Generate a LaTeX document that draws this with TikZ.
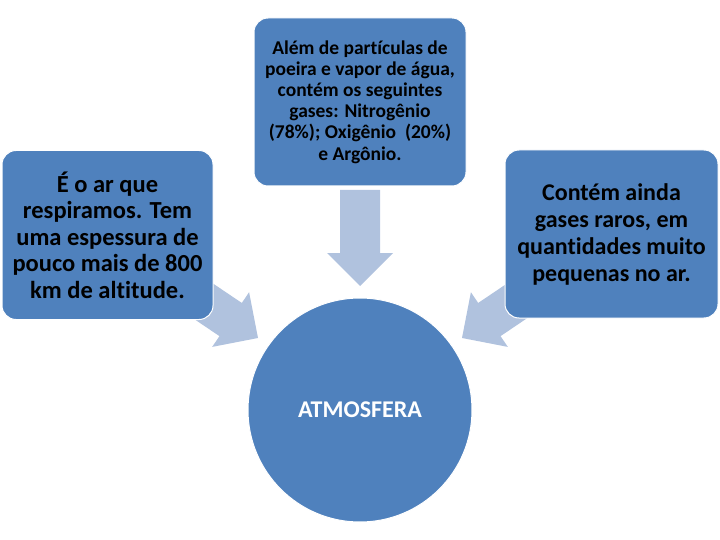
\documentclass[tikz,border=0pt]{standalone}
\usepackage{fontspec}
\setmainfont{Carlito}[Ligatures=NoCommon]
\definecolor{boxblue}{HTML}{4F81BD}
\definecolor{arrowblue}{HTML}{B0C2DE}
\begin{document}
\begin{tikzpicture}[x=1pt,y=-1pt,
  box/.style={fill=boxblue, draw=white, line width=1pt, rounded corners=14pt, align=center, inner sep=0pt, font=\bfseries},
  arr/.style={fill=arrowblue, draw=none}]
\useasboundingbox (0,0) rectangle (720,540);
% block arrows
\path[arr, shift={(360,286)}, rotate=-90] (-96,-20) -- (-33,-20) -- (-33,-33) -- (0,0) -- (-33,33) -- (-33,20) -- (-96,20) -- cycle;
\path[arr, shift={(258,338)}, rotate=-34] (-96,-20) -- (-33,-20) -- (-33,-33) -- (0,0) -- (-33,33) -- (-33,20) -- (-96,20) -- cycle;
\path[arr, shift={(462,338)}, rotate=-146] (-96,-20) -- (-33,-20) -- (-33,-33) -- (0,0) -- (-33,33) -- (-33,20) -- (-96,20) -- cycle;
% boxes
\node[box, minimum width=211pt, minimum height=169pt, font=\bfseries\fontsize{24.5}{26.5}\selectfont] (left) at (107.5,235)
  {É o ar que\\respiramos. Tem\\uma espessura de\\pouco mais de 800\\km de altitude.};
\node[box, minimum width=212pt, minimum height=168pt, font=\bfseries\fontsize{19.5}{21.2}\selectfont] (top) at (360,102)
  {Além de partículas de\\poeira e vapor de água,\\contém os seguintes\\gases: Nitrogênio\\(78\%); Oxigênio~ (20\%)\\e Argônio.};
\node[box, minimum width=213pt, minimum height=168pt, font=\bfseries\fontsize{24}{27}\selectfont] (right) at (611.5,234)
  {Contém ainda\\gases raros, em\\quantidades muito\\pequenas no ar.};
\node[circle, fill=boxblue, draw=white, line width=1pt, minimum size=224pt, inner sep=0pt, text=white, font=\bfseries\fontsize{24}{28}\selectfont] (atm) at (360,410) {ATMOSFERA};
\end{tikzpicture}
\end{document}
